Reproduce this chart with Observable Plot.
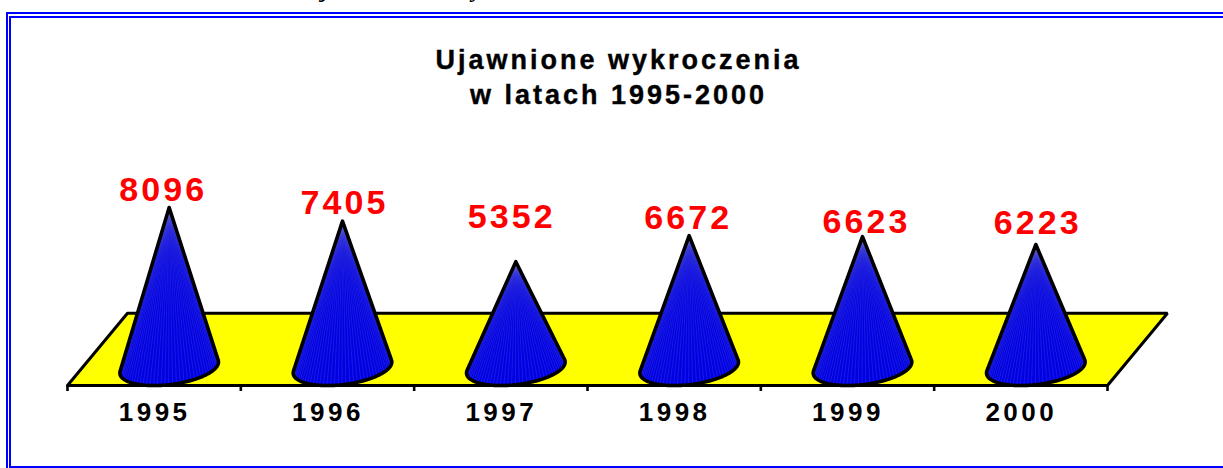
<!DOCTYPE html>
<html lang="pl">
<head>
<meta charset="utf-8">
<script src="https://cdn.jsdelivr.net/npm/d3@7"></script>
<script src="https://cdn.jsdelivr.net/npm/@observablehq/plot@0.6"></script>
<style>
html,body{margin:0;padding:0;background:#fff;width:1223px;height:468px;overflow:hidden}
#chart{position:absolute;left:0;top:0}
.rule{position:absolute;box-sizing:border-box;border:0 solid #0000ff}
.ttl{position:absolute;left:0;width:1237px;text-align:center;font:bold 27px "Liberation Sans",Arial,sans-serif;color:#000;letter-spacing:3px;white-space:nowrap;-webkit-text-stroke:0.4px #000}
.cut{position:absolute;font:italic bold 24px "Liberation Serif",serif;color:#000}
</style>
</head>
<body>
<div class="cut" style="left:322px;top:-24px">j</div>
<div class="cut" style="left:472px;top:-24px">y</div>
<div class="rule" style="left:6px;top:12px;right:0;bottom:0;border-top-width:2px;border-left-width:2px"></div>
<div class="rule" style="left:9px;top:16px;right:0;bottom:0;border-top-width:2px;border-left-width:2px;border-bottom-width:2px"></div>
<div class="ttl" style="top:45px">Ujawnione wykroczenia</div>
<div class="ttl" style="top:80px">w latach 1995-2000</div>
<div id="chart"></div>
<script>
const years = [1995, 1996, 1997, 1998, 1999, 2000];
const values = [8096, 7405, 5352, 6672, 6623, 6223];
const labelDx = [-6, 2, -4, -1, 4, 2];
const labelDy = [-7, -7, -34, -7, -4, -11];

const floorDepthX = 0.346, floorFront = -911, floorBack = 2748;
const radiusX = 0.271;
const depthX = floorDepthX / 4, depthY = (floorBack - floorFront) / 4;

const slot = i => i + 0.5 + depthX;
const rimPoint = (i, t) => [
  slot(i) + Math.cos(t) * radiusX + Math.sin(t) * depthX,
  Math.sin(t) * depthY
];

const floor = [[0, floorFront], [6, floorFront], [6 + floorDepthX, floorBack], [floorDepthX, floorBack], [0, floorFront]];

const cones = values.flatMap((v, i) => {
  const pts = d3.range(180).map(k => rimPoint(i, k / 180 * 2 * Math.PI));
  pts.push([slot(i), v]);
  const hull = d3.polygonHull(pts);
  hull.push(hull[0]);
  return hull.map(p => ({i, x: p[0], y: p[1]}));
});

const ribs = values.flatMap((v, i) => d3.range(1, 40).map(k => {
  const f = k / 40;
  const p = rimPoint(i, Math.PI + 0.3 + f * Math.PI);
  return {x1: slot(i), y1: v, x2: p[0], y2: p[1]};
}));

const sans = '"Liberation Sans",Arial,sans-serif';

const plot = Plot.plot({
  width: 1223,
  height: 468,
  marginLeft: 67,
  marginRight: 116,
  marginTop: 0,
  marginBottom: 83,
  style: {background: "transparent", fontFamily: sans, overflow: "visible"},
  x: {domain: [0, 6], axis: null},
  y: {domain: [floorFront, 18573], axis: null},
  marks: [
    Plot.line(floor, {x: d => d[0], y: d => d[1], fill: "#ffff00", stroke: "#000", strokeWidth: 3, strokeLinejoin: "miter"}),
    Plot.axisX({ticks: d3.range(0, 7), tickFormat: () => "", tickSize: 6, strokeWidth: 2.6, stroke: "#000", label: null}),
    Plot.axisX({
      ticks: years.map((y, i) => i + 0.5),
      tickFormat: x => String(years[x - 0.5]),
      tickSize: 0,
      tickPadding: 17,
      fontSize: 26,
      fontWeight: "bold",
      fill: "#000",
      dx: 0.5,
      label: null
    }),
    Plot.line(cones, {x: "x", y: "y", z: "i", fill: "#0000e4", stroke: "none"}),
    Plot.link(ribs, {x1: "x1", y1: "y1", x2: "x2", y2: "y2", stroke: "#8c8cc8", strokeWidth: 0.32, strokeOpacity: 0.6}),
    Plot.line(cones, {x: "x", y: "y", z: "i", fill: "none", stroke: "#000", strokeWidth: 3.6, strokeLinejoin: "round"}),
    ...values.map((v, i) => Plot.text([v], {
      x: () => slot(i),
      y: d => d,
      text: d => String(d),
      dx: labelDx[i],
      dy: labelDy[i],
      lineAnchor: "bottom",
      fontSize: 34,
      fontWeight: "bold",
      fill: "#ff0000"
    }))
  ]
});
document.getElementById("chart").appendChild(plot);
const svg = d3.select(plot);
svg.selectAll('g[aria-label="text"] text').style("letter-spacing", "3.1px");
svg.selectAll('g[aria-label^="x-axis tick label"] text').style("letter-spacing", "3.5px");
</script>
</body>
</html>
